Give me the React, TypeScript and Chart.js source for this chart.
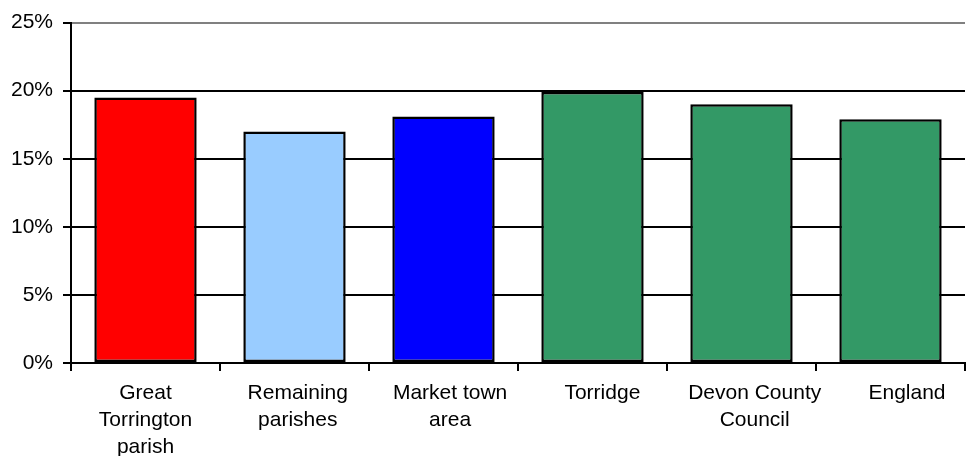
import React, { useEffect, useRef } from "react";
import { Chart, registerables } from "chart.js";

Chart.register(...registerables);

// Share of residents (%) by area
const areaLabels: string[][] = [
  ["Great", "Torrington", "parish"],
  ["Remaining", "parishes"],
  ["Market town", "area"],
  ["Torridge"],
  ["Devon County", "Council"],
  ["England"],
];
const shareValues: number[] = [19.5, 17.0, 18.1, 19.9, 19.0, 17.9];
const barColors: string[] = ["#FF0000", "#99CCFF", "#0000FF", "#339966", "#339966", "#339966"];
const yTicks: number[] = [0, 5, 10, 15, 20, 25];

// The category captions sit on their own axis, spaced a little wider than the bars
const labelAxisMin = -0.489;
const labelAxisMax = 5.381;

export default function App() {
  const canvasRef = useRef<HTMLCanvasElement | null>(null);

  useEffect(() => {
    if (!canvasRef.current) return;
    const font = { family: "'Liberation Sans', Arial, sans-serif", size: 21 };
    const chart = new Chart(canvasRef.current, {
      type: "bar",
      data: {
        labels: areaLabels.map((l) => l.join(" ")),
        datasets: [
          {
            data: shareValues,
            backgroundColor: barColors,
            borderColor: "#000000",
            borderWidth: 2.5,
            borderSkipped: false,
            categoryPercentage: 1,
            barPercentage: 0.687,
            xAxisID: "x",
          },
        ],
      },
      options: {
        animation: false,
        responsive: false,
        maintainAspectRatio: false,
        layout: { padding: { top: 19, right: 8, bottom: 0, left: 0 } },
        plugins: {
          legend: { display: false },
          title: { display: false },
          tooltip: { enabled: false },
        },
        scales: {
          x: {
            type: "category",
            position: "bottom",
            weight: 0,
            grid: {
              offset: true,
              drawOnChartArea: false,
              drawTicks: true,
              tickLength: 8,
              color: "#000000",
              lineWidth: 2,
            },
            border: { display: true, color: "#000000", width: 2 },
            ticks: { display: false },
            afterFit: (scale: any) => {
              scale.height = 8;
            },
          },
          captions: {
            type: "linear",
            position: "bottom",
            weight: 1,
            offset: false,
            bounds: "data",
            min: labelAxisMin,
            max: labelAxisMax,
            afterBuildTicks: (scale: any) => {
              scale.ticks = areaLabels.map((_, i) => ({ value: i }));
              scale.min = labelAxisMin;
              scale.max = labelAxisMax;
            },
            grid: { display: false, offset: false, drawTicks: false, drawOnChartArea: false },
            border: { display: false },
            ticks: {
              color: "#000000",
              font: { ...font, lineHeight: 1.28 },
              padding: 9,
              maxRotation: 0,
              autoSkip: false,
              callback: (v: any) => areaLabels[Math.round(Number(v))] ?? "",
            },
            afterFit: (scale: any) => {
              scale.height = 85;
            },
          },
          y: {
            min: 0,
            max: 25,
            afterBuildTicks: (scale: any) => {
              scale.ticks = yTicks.map((v) => ({ value: v }));
            },
            grid: {
              color: (ctx: any) => (ctx.tick && ctx.tick.value === 25 ? "#808080" : "#000000"),
              lineWidth: 2,
              drawTicks: true,
              tickLength: 8,
              tickColor: "#000000",
            },
            border: { display: true, color: "#000000", width: 2 },
            ticks: {
              color: "#000000",
              font,
              padding: 10,
              callback: (v: any) => `${v}%`,
            },
            afterFit: (scale: any) => {
              scale.width = 71;
            },
          },
        },
      },
    });
    return () => chart.destroy();
  }, []);

  return (
    <div style={{ position: "fixed", left: 0, top: 0, width: 973, height: 456, background: "#ffffff" }}>
      <canvas ref={canvasRef} width={973} height={456} style={{ display: "block" }} />
    </div>
  );
}
